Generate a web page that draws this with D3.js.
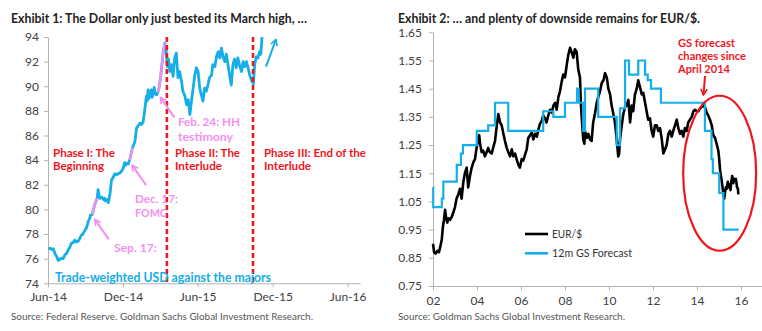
<!DOCTYPE html>
<html>
<head>
<meta charset="utf-8">
<script src="https://cdnjs.cloudflare.com/ajax/libs/d3/7.8.5/d3.min.js"></script>
<style>
body { margin: 0; background: #fff; }
svg text { font-family: Lato, "Open Sans", sans-serif; }
.tick text { fill: #404040; font-size: 12px; }
.tick line, .domain { stroke: #b3b3b3; }
</style>
</head>
<body>
<svg id="canvas" width="762" height="331">
  <defs></defs>
</svg>
<script>

// ---- Exhibit 1: trade-weighted USD ----
const usdSeries = [
  ["2014-06-02", 76.8], ["2014-06-06", 76.85], ["2014-06-10", 76.75], ["2014-06-14", 76.8],
  ["2014-06-18", 76.4], ["2014-06-22", 76.2], ["2014-06-26", 75.85], ["2014-06-30", 75.95],
  ["2014-07-04", 76.05], ["2014-07-08", 76.0], ["2014-07-12", 76.3], ["2014-07-16", 76.4],
  ["2014-07-20", 76.7], ["2014-07-24", 76.9], ["2014-07-28", 77.25], ["2014-08-01", 77.3],
  ["2014-08-05", 77.5], ["2014-08-09", 77.35], ["2014-08-13", 77.4], ["2014-08-17", 77.6],
  ["2014-08-21", 77.9], ["2014-08-25", 78.0], ["2014-08-30", 78.3], ["2014-09-03", 78.5],
  ["2014-09-07", 79.0], ["2014-09-11", 79.3], ["2014-09-13", 79.55], ["2014-09-17", 79.6],
  ["2014-09-20", 80.0], ["2014-09-23", 80.4], ["2014-09-29", 80.9], ["2014-10-01", 81.6],
  ["2014-10-04", 81.1], ["2014-10-06", 80.9], ["2014-10-10", 81.0], ["2014-10-14", 80.8],
  ["2014-10-17", 80.9], ["2014-10-19", 80.7], ["2014-10-23", 80.8], ["2014-10-26", 80.55],
  ["2014-10-30", 81.2], ["2014-11-03", 82.4], ["2014-11-07", 82.6], ["2014-11-11", 82.9],
  ["2014-11-15", 82.8], ["2014-11-19", 82.9], ["2014-11-23", 82.95], ["2014-11-27", 83.1],
  ["2014-12-01", 83.3], ["2014-12-05", 83.8], ["2014-12-08", 83.6], ["2014-12-11", 83.75],
  ["2014-12-14", 83.7], ["2014-12-17", 84.0], ["2014-12-20", 84.4], ["2014-12-24", 85.0],
  ["2014-12-30", 85.5], ["2015-01-03", 86.6], ["2015-01-07", 86.8], ["2015-01-11", 87.0],
  ["2015-01-15", 86.9], ["2015-01-19", 87.1], ["2015-01-23", 88.1], ["2015-01-27", 89.2],
  ["2015-01-29", 88.8], ["2015-01-31", 89.7], ["2015-02-02", 89.0], ["2015-02-04", 89.2],
  ["2015-02-08", 89.7], ["2015-02-10", 89.1], ["2015-02-12", 89.3], ["2015-02-15", 89.9],
  ["2015-02-17", 89.4], ["2015-02-21", 89.3], ["2015-02-24", 89.5], ["2015-02-27", 89.9],
  ["2015-03-03", 90.8], ["2015-03-05", 91.5], ["2015-03-09", 92.8], ["2015-03-13", 93.5],
  ["2015-03-16", 93.0], ["2015-03-19", 91.6], ["2015-03-22", 92.2], ["2015-03-25", 91.2],
  ["2015-03-29", 91.75], ["2015-04-02", 90.8], ["2015-04-06", 92.3], ["2015-04-10", 92.7],
  ["2015-04-14", 90.7], ["2015-04-18", 91.2], ["2015-04-23", 90.3], ["2015-04-26", 89.6],
  ["2015-05-01", 89.2], ["2015-05-05", 88.5], ["2015-05-09", 88.9], ["2015-05-13", 87.7],
  ["2015-05-17", 88.8], ["2015-05-21", 89.85], ["2015-05-25", 90.9], ["2015-05-29", 91.5],
  ["2015-06-02", 91.2], ["2015-06-06", 89.85], ["2015-06-10", 89.3], ["2015-06-14", 88.8],
  ["2015-06-18", 89.85], ["2015-06-22", 89.6], ["2015-06-26", 90.1], ["2015-06-30", 90.7],
  ["2015-07-05", 90.9], ["2015-07-08", 91.75], ["2015-07-13", 91.6], ["2015-07-17", 92.4],
  ["2015-07-21", 92.8], ["2015-07-25", 92.3], ["2015-07-29", 93.1], ["2015-08-02", 92.4],
  ["2015-08-06", 92.0], ["2015-08-10", 92.6], ["2015-08-14", 91.75], ["2015-08-18", 90.9],
  ["2015-08-22", 90.1], ["2015-08-26", 91.75], ["2015-08-30", 92.2], ["2015-09-03", 91.5],
  ["2015-09-07", 92.3], ["2015-09-12", 91.6], ["2015-09-16", 91.2], ["2015-09-20", 92.0],
  ["2015-09-24", 91.6], ["2015-09-28", 92.0], ["2015-10-02", 91.5], ["2015-10-06", 90.9],
  ["2015-10-10", 90.5], ["2015-10-15", 90.2], ["2015-10-18", 91.75], ["2015-10-22", 92.4],
  ["2015-10-26", 92.3], ["2015-10-30", 92.8], ["2015-11-02", 92.6], ["2015-11-05", 94.0]
];
// stretches drawn in pink after each event
const pinkRanges = [["2014-09-17", "2014-09-29"], ["2014-12-17", "2014-12-24"], ["2015-02-24", "2015-03-13"]];
const phaseBreaks = ["2015-03-18", "2015-10-14"];
const leftYTicks = [74, 76, 78, 80, 82, 84, 86, 88, 90, 92, 94];
const leftXTicks = ["2014-06-01", "2014-12-01", "2015-06-01", "2015-12-01", "2016-06-01"];

// ---- Exhibit 2: EUR/$ and GS 12m forecast ----
const eurSeries = [
  [2002.00, 0.90], [2002.05, 0.87], [2002.12, 0.865], [2002.20, 0.875], [2002.27, 0.87],
  [2002.32, 0.885], [2002.40, 0.915], [2002.45, 0.96], [2002.50, 0.985], [2002.55, 1.02],
  [2002.60, 0.99], [2002.65, 0.975], [2002.70, 0.99], [2002.77, 0.985], [2002.85, 0.995],
  [2002.92, 1.01], [2003.00, 1.03], [2003.07, 1.06], [2003.15, 1.075], [2003.23, 1.095],
  [2003.30, 1.06], [2003.38, 1.12], [2003.45, 1.15], [2003.53, 1.17], [2003.60, 1.10],
  [2003.68, 1.14], [2003.76, 1.17], [2003.84, 1.19], [2003.91, 1.20], [2003.99, 1.245],
  [2004.06, 1.27], [2004.10, 1.285], [2004.14, 1.255], [2004.21, 1.225], [2004.28, 1.23],
  [2004.36, 1.21], [2004.44, 1.225], [2004.51, 1.24], [2004.58, 1.225], [2004.67, 1.22],
  [2004.75, 1.245], [2004.82, 1.265], [2004.90, 1.32], [2004.97, 1.36], [2005.05, 1.33],
  [2005.12, 1.32], [2005.20, 1.29], [2005.27, 1.265], [2005.35, 1.24], [2005.42, 1.225],
  [2005.50, 1.21], [2005.58, 1.235], [2005.65, 1.21], [2005.73, 1.22], [2005.80, 1.20],
  [2005.88, 1.18], [2005.95, 1.17], [2006.03, 1.20], [2006.10, 1.195], [2006.18, 1.215],
  [2006.26, 1.235], [2006.33, 1.275], [2006.41, 1.285], [2006.49, 1.295], [2006.56, 1.27],
  [2006.64, 1.29], [2006.72, 1.28], [2006.79, 1.305], [2006.86, 1.325], [2006.94, 1.335],
  [2007.01, 1.355], [2007.09, 1.345], [2007.16, 1.33], [2007.24, 1.355], [2007.32, 1.375],
  [2007.40, 1.365], [2007.47, 1.39], [2007.55, 1.40], [2007.62, 1.375], [2007.70, 1.42],
  [2007.77, 1.44], [2007.85, 1.475], [2007.92, 1.50], [2008.00, 1.49], [2008.08, 1.535],
  [2008.15, 1.57], [2008.23, 1.595], [2008.30, 1.58], [2008.38, 1.56], [2008.45, 1.59],
  [2008.53, 1.58], [2008.60, 1.52], [2008.68, 1.49], [2008.72, 1.40], [2008.76, 1.345],
  [2008.83, 1.27], [2008.88, 1.255], [2008.91, 1.30], [2008.99, 1.275], [2009.06, 1.29],
  [2009.14, 1.27], [2009.21, 1.265], [2009.28, 1.33], [2009.36, 1.36], [2009.44, 1.40],
  [2009.51, 1.42], [2009.59, 1.44], [2009.67, 1.47], [2009.75, 1.48], [2009.82, 1.505],
  [2009.90, 1.49], [2009.97, 1.45], [2010.05, 1.43], [2010.12, 1.39], [2010.20, 1.36],
  [2010.27, 1.33], [2010.35, 1.27], [2010.42, 1.21], [2010.46, 1.22], [2010.50, 1.27],
  [2010.58, 1.32], [2010.65, 1.36], [2010.73, 1.385], [2010.80, 1.39], [2010.88, 1.41],
  [2010.96, 1.33], [2011.03, 1.39], [2011.10, 1.37], [2011.18, 1.43], [2011.26, 1.45],
  [2011.33, 1.48], [2011.41, 1.455], [2011.49, 1.43], [2011.56, 1.435], [2011.64, 1.40],
  [2011.71, 1.37], [2011.78, 1.34], [2011.86, 1.345], [2011.94, 1.30], [2012.01, 1.28],
  [2012.09, 1.32], [2012.17, 1.32], [2012.24, 1.30], [2012.32, 1.31], [2012.40, 1.27],
  [2012.47, 1.22], [2012.55, 1.235], [2012.62, 1.25], [2012.70, 1.29], [2012.77, 1.30],
  [2012.85, 1.28], [2012.92, 1.30], [2013.00, 1.32], [2013.08, 1.34], [2013.15, 1.31],
  [2013.23, 1.29], [2013.30, 1.30], [2013.38, 1.28], [2013.45, 1.31], [2013.53, 1.30],
  [2013.60, 1.33], [2013.68, 1.34], [2013.76, 1.35], [2013.84, 1.37], [2013.91, 1.375],
  [2014.00, 1.37], [2014.06, 1.37], [2014.14, 1.38], [2014.21, 1.385], [2014.29, 1.39],
  [2014.36, 1.385], [2014.44, 1.365], [2014.51, 1.355], [2014.59, 1.34], [2014.67, 1.32],
  [2014.74, 1.285], [2014.82, 1.275], [2014.89, 1.255], [2014.97, 1.23], [2015.01, 1.20],
  [2015.05, 1.16], [2015.12, 1.125], [2015.20, 1.075], [2015.24, 1.06], [2015.27, 1.08],
  [2015.31, 1.10], [2015.35, 1.095], [2015.40, 1.12], [2015.44, 1.10], [2015.48, 1.11],
  [2015.52, 1.09], [2015.56, 1.12], [2015.60, 1.14], [2015.65, 1.115], [2015.69, 1.13],
  [2015.73, 1.125], [2015.77, 1.13], [2015.82, 1.10], [2015.86, 1.095], [2015.88, 1.075]
];
// forecast level in force from each date (step line)
const gsForecast = [
  [2002.00, 1.10], [2002.01, 1.03], [2002.40, 1.06], [2002.47, 1.12], [2003.08, 1.18],
  [2003.27, 1.22], [2003.36, 1.25], [2003.99, 1.30], [2004.51, 1.32], [2004.82, 1.40],
  [2005.42, 1.30], [2007.01, 1.37], [2007.47, 1.35], [2008.00, 1.40], [2008.55, 1.45],
  [2008.62, 1.40], [2008.83, 1.30], [2008.91, 1.45], [2009.51, 1.35], [2010.35, 1.25],
  [2010.50, 1.38], [2010.73, 1.55], [2010.91, 1.50], [2011.33, 1.55], [2011.64, 1.50],
  [2011.76, 1.48], [2011.91, 1.45], [2012.36, 1.40], [2014.36, 1.30], [2014.66, 1.20],
  [2014.72, 1.15], [2015.01, 1.08], [2015.20, 0.95], [2015.90, 0.95]
];
const rightYTicks = [0.75, 0.85, 0.95, 1.05, 1.15, 1.25, 1.35, 1.45, 1.55, 1.65];
const rightXTicks = [2002, 2004, 2006, 2008, 2010, 2012, 2014, 2016];

const BLUE = '#14aee8', PINK = '#f390ef', RED = '#f0161e';
const parse = d3.timeParse('%Y-%m-%d');
const usd = usdSeries.map(([d, v]) => ({ date: parse(d), value: v }));

const svg = d3.select('svg#canvas');
const defs = svg.select('defs');

function marker(id, color) {
  defs.append('marker')
    .attr('id', id)
    .attr('markerUnits', 'userSpaceOnUse')
    .attr('viewBox', '0 0 8 8')
    .attr('refX', 7).attr('refY', 4)
    .attr('markerWidth', 8).attr('markerHeight', 8)
    .attr('orient', 'auto')
    .append('path')
    .attr('d', 'M1,0.8 L7,4 L1,7.2')
    .attr('fill', 'none')
    .attr('stroke', color)
    .attr('stroke-width', 1.6);
}
marker('arrow-pink', PINK);
marker('arrow-blue', BLUE);
marker('arrow-red', RED);

// text helper: x, baseline y, target width
function label(g, str, x, y, w, opts) {
  const t = g.append('text')
    .attr('x', x).attr('y', y)
    .attr('fill', opts.color)
    .attr('font-size', opts.size + 'px')
    .attr('font-weight', opts.bold ? 700 : 400)
    .text(str);
  if (w) t.attr('textLength', w).attr('lengthAdjust', 'spacingAndGlyphs');
  return t;
}
function arrow(g, x1, y1, x2, y2, color, id) {
  g.append('line')
    .attr('x1', x1).attr('y1', y1).attr('x2', x2).attr('y2', y2)
    .attr('stroke', color).attr('stroke-width', 2)
    .attr('marker-end', `url(#${id})`);
}

// ================= left chart =================
const L = svg.append('g');
const x1 = d3.scaleTime().domain([parse('2014-06-01'), parse('2016-07-01')]).range([48, 360]);
const y1 = d3.scaleLinear().domain([74, 94]).range([283.3, 37]);

L.append('g').attr('transform', 'translate(48,0)')
  .call(d3.axisLeft(y1).tickValues(leftYTicks).tickSize(4).tickSizeOuter(0).tickPadding(5));
L.append('g').attr('transform', 'translate(0,283.3)')
  .call(d3.axisBottom(x1).tickValues(leftXTicks.map(parse)).tickSize(4).tickSizeOuter(0)
    .tickPadding(5).tickFormat(d3.timeFormat('%b-%y')));

const line1 = d3.line().x(d => x1(d.date)).y(d => y1(d.value));
L.append('path').datum(usd)
  .attr('d', line1).attr('fill', 'none')
  .attr('stroke', BLUE).attr('stroke-width', 2.8).attr('stroke-linejoin', 'round');

pinkRanges.forEach(([a, b]) => {
  const seg = usd.filter(d => d.date >= parse(a) && d.date <= parse(b));
  L.append('path').datum(seg)
    .attr('d', line1).attr('fill', 'none')
    .attr('stroke', PINK).attr('stroke-width', 2.4);
});

phaseBreaks.forEach(d => {
  L.append('line')
    .attr('x1', x1(parse(d))).attr('x2', x1(parse(d)))
    .attr('y1', y1(94)).attr('y2', y1(74))
    .attr('stroke', RED).attr('stroke-width', 2.6)
    .attr('stroke-dasharray', '5,3');
});

// event arrows point at the start of each pink stretch
pinkRanges.forEach(([a]) => {
  const p = usd.find(d => +d.date === +parse(a));
  const tx = x1(p.date) + 2.5, ty = y1(p.value) + 5;
  arrow(L, tx + 14, ty + 20, tx, ty, PINK, 'arrow-pink');
});

// continuation arrow
const last = usd[usd.length - 1];
arrow(L, x1(last.date) + 4, y1(91.6), x1(last.date) + 14, y1(93.8), BLUE, 'arrow-blue');

const big = { color: RED, size: 12, bold: true };
label(L, 'Phase I: The', 53, 156.5, 62, big);
label(L, 'Beginning', 53, 170, 51, big);
label(L, 'Phase II: The', 175, 156.5, 65, big);
label(L, 'Interlude', 175, 170, 47, big);
label(L, 'Phase III: End of the', 264, 156.5, 102, big);
label(L, 'Interlude', 264, 170, 47, big);

const pk = { color: PINK, size: 12, bold: true };
label(L, 'Feb. 24: HH', 178, 126, 62, pk);
label(L, 'testimony', 178, 140.5, 55, pk);
label(L, 'Dec. 17:', 135, 202.5, 43, pk);
label(L, 'FOMC', 135, 216.5, 32, pk);
label(L, 'Sep. 17:', 114, 251.5, 43, pk);

label(L, 'Trade-weighted USD against the majors', 55, 281.5, 216, { color: BLUE, size: 12.5, bold: true });

label(L, 'Exhibit 1: The Dollar only just bested its March high, \u2026', 11, 23, 296, { color: '#222', size: 12.5, bold: true });
label(L, 'Source: Federal Reserve. Goldman Sachs Global Investment Research.', 11, 319.5, 302, { color: '#555', size: 10, bold: false });

// ================= right chart =================
const R = svg.append('g');
const x2 = d3.scaleLinear().domain([2002, 2017]).range([433, 763]);
const y2 = d3.scaleLinear().domain([0.75, 1.65]).range([286, 32.3]);

R.append('g').attr('transform', 'translate(433,0)')
  .call(d3.axisLeft(y2).tickValues(rightYTicks).tickSize(4).tickSizeOuter(0).tickPadding(7)
    .tickFormat(d3.format('.2f')));
R.append('g').attr('transform', 'translate(0,286)')
  .call(d3.axisBottom(x2).tickValues(rightXTicks).tickSize(4).tickSizeOuter(0).tickPadding(6)
    .tickFormat(d => String(d).slice(2)));

R.append('path').datum(eurSeries)
  .attr('d', d3.line().x(d => x2(d[0])).y(d => y2(d[1])))
  .attr('fill', 'none').attr('stroke', '#000').attr('stroke-width', 2.6)
  .attr('stroke-linejoin', 'round');

R.append('path').datum(gsForecast)
  .attr('d', d3.line().curve(d3.curveStepAfter).x(d => x2(d[0])).y(d => y2(d[1])))
  .attr('fill', 'none').attr('stroke', BLUE).attr('stroke-width', 2.2);

// legend
const legend = [['EUR/$', '#000', 234], ['12m GS Forecast', BLUE, 253.3]];
legend.forEach(([name, color, ly]) => {
  R.append('line').attr('x1', 525).attr('x2', 548).attr('y1', ly).attr('y2', ly)
    .attr('stroke', color).attr('stroke-width', 2.6);
  label(R, name, 552, ly + 4, name === 'EUR/$' ? 30 : 80, { color: '#333', size: 11.5, bold: false });
});

// circled forecast changes
R.append('ellipse')
  .attr('cx', x2(2015.03)).attr('cy', y2(1.15))
  .attr('rx', 36.5).attr('ry', 77.5)
  .attr('fill', 'none').attr('stroke', RED).attr('stroke-width', 2.2);

const rd = { color: RED, size: 11, bold: true };
label(R, 'GS forecast', 678, 46.5, 57, rd);
label(R, 'changes since', 678, 59.5, 68, rd);
label(R, 'April 2014', 678, 72.5, 52, rd);
arrow(R, 705, 76, 703.5, 95, RED, 'arrow-red');

label(R, 'Exhibit 2: \u2026 and plenty of downside remains for EUR/$.', 398, 23, 302, { color: '#222', size: 12.5, bold: true });
label(R, 'Source: Goldman Sachs Global Investment Research.', 398, 319.5, 227, { color: '#555', size: 10, bold: false });

</script>
</body>
</html>
